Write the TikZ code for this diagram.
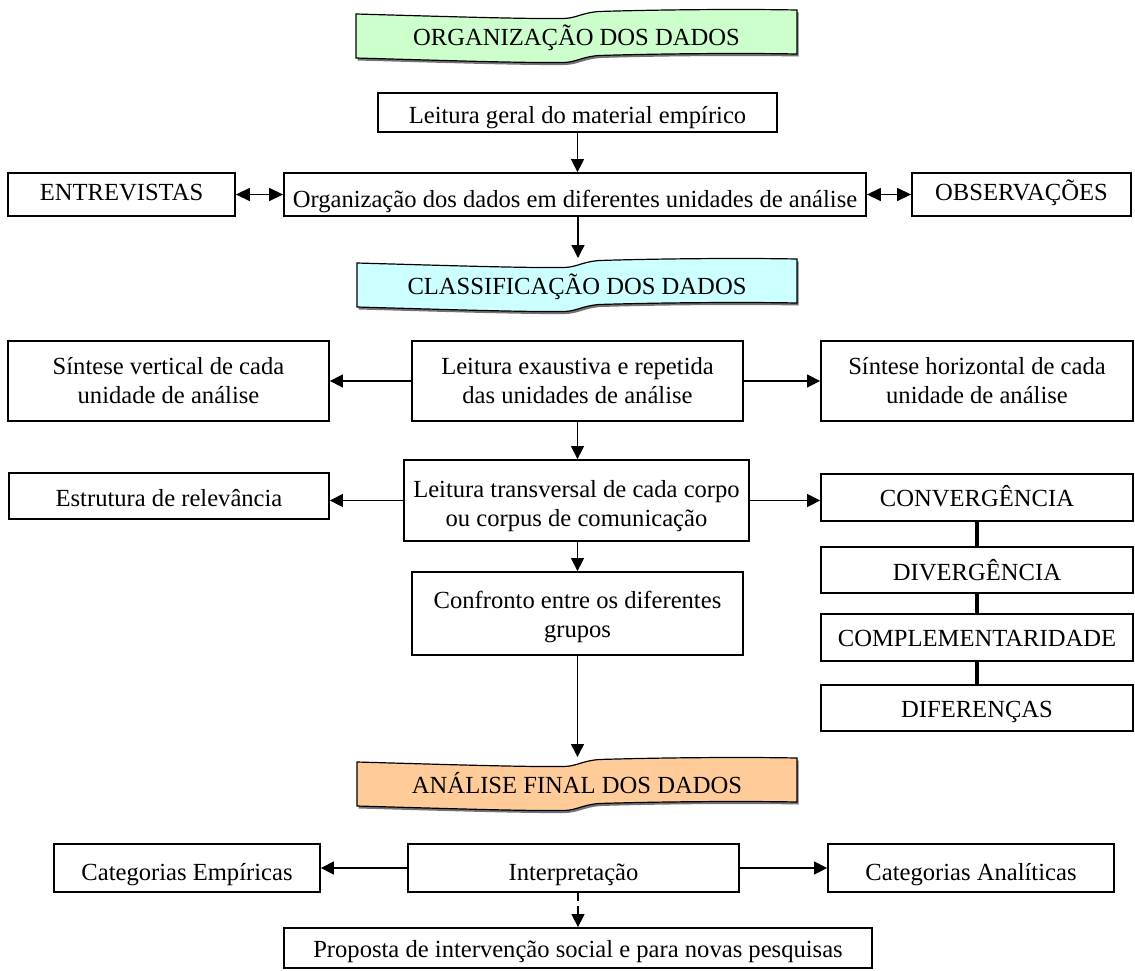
\documentclass[tikz,border=0pt]{standalone}
\usepackage{fontspec}
\setmainfont{Liberation Serif}
\usetikzlibrary{arrows.meta}
\definecolor{bgreen}{HTML}{CCFFCC}
\definecolor{bcyan}{HTML}{CCFFFF}
\definecolor{borange}{HTML}{FFCC99}
\tikzset{
 box/.style={draw, line width=0.9pt, inner sep=0pt, align=center, font=\fontsize{12.3}{14.5}\selectfont},
 bl/.style={text height=#1pt, text depth=0pt},
 arr/.style={line width=0.7pt, -{Triangle[length=6.5pt,width=6.5pt]}},
 darr/.style={line width=0.7pt, {Triangle[length=7pt,width=6.5pt]}-{Triangle[length=7pt,width=6.5pt]}},
 dasharr/.style={arr, dash pattern=on 4pt off 2.5pt},
 link/.style={line width=1.6pt},
 bannertext/.style={inner sep=0pt, anchor=base, font=\fontsize{12.3}{14.5}\selectfont},
 bannerfill/.style={draw=black, line width=0.6pt},
 bannershadow/.style={fill=black!55},
}
\newcommand\bx[7][]{\node[box, #1, minimum width={(#5-#3)*0.5pt}, minimum height={(#6-#4)*0.5pt}] (#2) at ({(#3+#5)/2},{(#4+#6)/2}) {#7};}
\newcommand\bannerpath[4]{({#1},{#2}) .. controls ({#1+0.2*#3},{#2+2.5}) and ({#1+0.38*#3},{#2+5}) .. ({#1+0.47*#3},{#2+4.5})
 .. controls ({#1+0.5*#3},{#2+4.2}) and ({#1+0.51*#3},{#2-1}) .. ({#1+0.55*#3},{#2-2.5})
 .. controls ({#1+0.7*#3},{#2-4.5}) and ({#1+0.88*#3},{#2-5}) .. ({#1+#3},{#2-4})
 -- ({#1+#3},{#2-4+#4})
 .. controls ({#1+0.88*#3},{#2-5+#4}) and ({#1+0.7*#3},{#2-4.5+#4}) .. ({#1+0.55*#3},{#2-2.5+#4})
 .. controls ({#1+0.51*#3},{#2-1+#4}) and ({#1+0.5*#3},{#2+4.2+#4}) .. ({#1+0.47*#3},{#2+4.5+#4})
 .. controls ({#1+0.38*#3},{#2+5+#4}) and ({#1+0.2*#3},{#2+2.5+#4}) .. ({#1},{#2+#4}) -- cycle}
\newcommand\banner[7]{%
 \fill[bannershadow, shift={(1.5,2.5)}] \bannerpath{#2}{#3}{#4}{#5};
 \filldraw[bannerfill, fill=#6] \bannerpath{#2}{#3}{#4}{#5};
 \node[bannertext] (#1) at ({#2+#4/2},{#3+31}) {#7};
}
\begin{document}
\begin{tikzpicture}[x=0.5pt,y=-0.5pt]
\useasboundingbox (0,0) rectangle (1135,970);
\banner{ban1}{356}{14}{441}{44}{bgreen}{ORGANIZAÇÃO DOS DADOS}
\bx[bl=11]{le}{378}{93}{777}{132}{Leitura geral do material empírico}
\bx[bl=5.5]{ent}{8}{173}{235}{216}{ENTREVISTAS}
\bx[bl=12.5]{org}{284}{173}{866}{216}{Organização dos dados em diferentes unidades de análise}
\bx[bl=5.5]{obs}{912}{173}{1131}{216}{OBSERVAÇÕES}
\banner{ban2}{357}{263}{440}{44}{bcyan}{CLASSIFICAÇÃO DOS DADOS}
\bx{sv}{8}{341}{329}{421}{Síntese vertical de cada\\unidade de análise}
\bx{le2}{412}{341}{743}{421}{Leitura exaustiva e repetida\\das unidades de análise}
\bx{sh}{821}{341}{1133}{421}{Síntese horizontal de cada\\unidade de análise}
\bx[bl=10]{est}{9}{473}{329}{519}{Estrutura de relevância}
\bx{lt}{404}{460}{749}{541}{\rule{0pt}{14.5pt}Leitura transversal de cada corpo\\ou corpus de comunicação}
\bx[bl=9]{conv}{821}{474}{1133}{521}{CONVERGÊNCIA}
\bx[bl=10]{div}{821}{547}{1133}{593}{DIVERGÊNCIA}
\bx[bl=9]{comp}{821}{614}{1133}{661}{COMPLEMENTARIDADE}
\bx[bl=9]{dif}{821}{685}{1133}{731}{DIFERENÇAS}
\bx{conf}{412}{572}{743}{655}{\rule{0pt}{12pt}Confronto entre os diferentes\\grupos}
\banner{ban3}{357}{762}{440}{44}{borange}{ANÁLISE FINAL DOS DADOS}
\bx[bl=12]{ce}{54}{844}{320}{892}{Categorias Empíricas}
\bx[bl=12]{int}{408}{844}{739}{892}{Interpretação}
\bx[bl=12]{ca}{828}{844}{1114}{892}{Categorias Analíticas}
\bx[bl=9]{prop}{284}{928}{872}{968}{Proposta de intervenção social e para novas pesquisas}
\coordinate (b2tip) at (578,258);
\coordinate (b3tip) at (577.5,757);
\draw[arr] (le.south) -- (le.south |- org.north);
\draw[darr] (ent.east) -- (org.west);
\draw[darr] (org.east) -- (obs.west);
\draw[arr] (org.south -| b2tip) -- (b2tip);
\draw[arr] (le2.west) -- (sv.east);
\draw[arr] (le2.east) -- (sh.west);
\draw[arr] (le2.south) -- (le2.south |- lt.north);
\draw[arr] (lt.west) -- (lt.west -| est.east);
\draw[arr] (lt.east) -- (lt.east -| conv.west);
\draw[link] (conv.south) -- (div.north);
\draw[link] (div.south) -- (comp.north);
\draw[link] (comp.south) -- (dif.north);
\draw[arr] (lt.south -| conf.north) -- (conf.north);
\draw[arr] (conf.south) -- (conf.south |- b3tip);
\draw[arr] (int.west) -- (ce.east);
\draw[arr] (int.east) -- (ca.west);
\draw[dasharr] (int.south -| prop.north) -- (prop.north);
\end{tikzpicture}
\end{document}
